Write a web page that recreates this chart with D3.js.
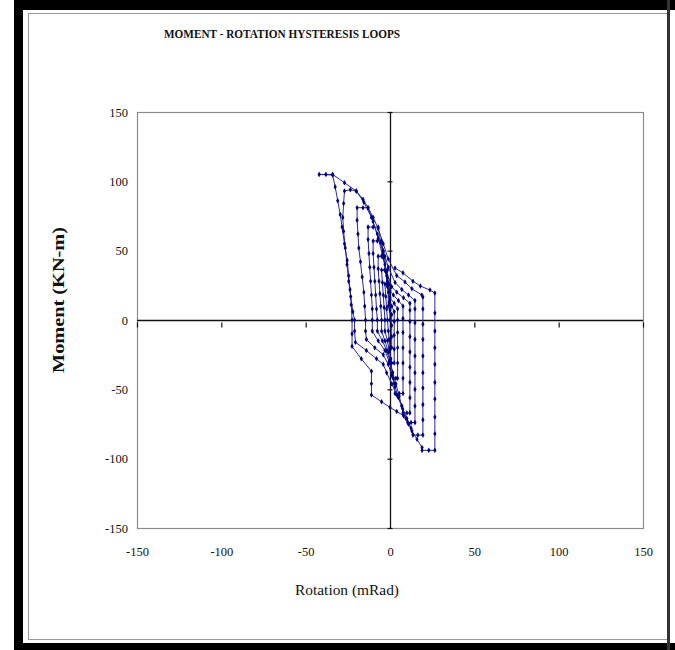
<!DOCTYPE html>
<html>
<head>
<meta charset="utf-8">
<script src="https://cdn.jsdelivr.net/npm/d3@7"></script>
<style>
  html, body { margin: 0; padding: 0; background: #fff; }
  svg { display: block; }
</style>
</head>
<body>
<svg id="chart" width="675" height="650"></svg>
<script>
// Axis ticks (rotation in mRad, moment in kN-m)
const xTicks = [-150, -100, -50, 0, 50, 100, 150];
const yTicks = [-150, -100, -50, 0, 50, 100, 150];

// Recorded hysteresis cycles, [rotation, moment], in test order
const loop1 = [[0,0],[-0.3,12],[-0.5,26],[-1.8,26],[-3,26],[-2.5,17],[-2,8],[-1.5,0],[-1,-8],[-0.5,-14],[0,-20],[1,-20],[1,-12],[1,-4],[1,4],[0,7],[-1,10]];
const loop2 = [[-1,20],[-1.5,30],[-1.5,36],[-3.2,36],[-5,36],[-4.5,27],[-4,18],[-3.5,9],[-3,0],[-3,-8],[-1.5,-15],[-0.5,-22],[0.5,-28],[1,-31],[2.5,-31],[2.5,-21],[2.5,-11],[2.5,-1],[2.5,6],[1,10],[-0.5,13]];
const loop3 = [[-1.5,24],[-2.5,35],[-3,46],[-5,46],[-7,46],[-7,37],[-6.5,28],[-6,19],[-5.5,10],[-5,0],[-5,-8],[-3,-15],[-1,-23],[0.5,-31],[1.5,-38],[2,-42],[3.5,-42],[4.5,-42],[4.5,-31],[4.5,-20],[4.5,-9],[4.5,0],[4.5,8],[2.5,12],[0,16]];
const loop4 = [[-1.5,28],[-3,40],[-4,49],[-5,57],[-7.5,57],[-10,57],[-10,48],[-9.5,38],[-9,28],[-8.5,18],[-8,8],[-7.5,0],[-7.5,-8],[-4.5,-15],[-2,-22],[0,-30],[1.5,-38],[2.5,-46],[3,-53],[5.5,-53],[7.7,-53],[7.7,-42],[7.7,-31],[7.7,-20],[7.7,-9],[7.7,1],[7.7,10],[5,14],[2,18],[0,21]];
const loop5 = [[-2,32],[-4,45],[-5.5,56],[-7,67],[-10,67],[-13,67],[-13,58],[-12.5,48],[-12,38],[-11.5,28],[-11,18],[-10.5,8],[-10.5,0],[-10.5,-8],[-7,-15],[-3,-22],[-0.5,-30],[1.5,-38],[3.5,-46],[5.5,-55],[7,-62],[7.7,-67],[10,-67],[11.8,-67],[11.8,-56],[11.8,-45],[11.8,-34],[11.8,-23],[11.8,-12],[11.8,-1],[11.8,7],[11.8,12],[8,16],[4,20],[1,24]];
const loop6 = [[-2,35],[-4.5,47],[-7,59],[-10,71],[-13,81],[-16,81],[-19.5,81],[-19.5,72],[-19,62],[-18.5,52],[-17.5,42],[-16.5,31],[-15.5,20],[-15,10],[-14.5,0],[-14.5,-8],[-14,-14],[-9,-20],[-4,-25],[-1,-32],[1,-40],[3,-48],[5,-56],[7.5,-64],[9.5,-71],[10.5,-74],[12.5,-74],[14.8,-74],[14.8,-62],[14.8,-50],[14.8,-38],[14.8,-26],[14.8,-14],[14.8,-2],[14.8,8],[14.8,14],[11,18],[7,22],[3,27]];
const loop7 = [[-1,38],[-4,50],[-7.5,62],[-11,74],[-15.5,85],[-20,93],[-23.5,94],[-27,93],[-27.5,84],[-28,74],[-27.5,64],[-26.5,52],[-25.5,40],[-24.5,28],[-23.3,17],[-22,6],[-21,0],[-21,-8],[-20.5,-16],[-14,-22],[-8,-28],[-4,-32],[-2,-38],[1,-46],[4,-54],[7,-62],[10,-71],[12.5,-78],[13.6,-83],[16.5,-83],[19.5,-83],[19.5,-72],[19.5,-61],[19.5,-49],[19.5,-38],[19.5,-26],[19.5,-14],[19.5,-3],[19.5,8],[19.5,16.6],[18.9,18],[13,22.5],[8.9,27.4],[4,32]];
const loop8 = [[-1,44],[-4,55],[-7,66],[-10,74],[-13,81],[-16,87],[-20,93],[-27,99],[-34,105],[-38,105],[-42,105],[-34,104.5],[-32.5,96],[-31,86],[-29.5,76],[-28.4,67],[-27,55],[-25.4,43],[-24.5,32],[-23.7,22],[-23,11],[-22.5,0],[-22.5,-10],[-22.5,-19],[-17,-28],[-11,-37],[-11,-46],[-11,-54],[-5,-59],[0,-63],[4,-66],[8,-69],[11,-75],[13,-80],[16,-86],[19,-92],[19,-94],[23,-94],[26.6,-94],[26.6,-82],[26.6,-70],[26.6,-57],[26.6,-45],[26.6,-32],[26.6,-20],[26.6,-8],[26.6,5],[26.6,19.5],[23.7,21.6],[18,24.5],[13.6,28],[7.7,34],[3,37.5]];

const cycles = [loop1, loop2, loop3, loop4, loop5, loop6, loop7, loop8];
const points = cycles.flat();

const svg = d3.select('#chart');
const W = 675, H = 650;
const plot = { left: 137, right: 643, top: 112, bottom: 528 };

const x = d3.scaleLinear().domain([-150, 150]).range([plot.left, plot.right]);
const y = d3.scaleLinear().domain([-150, 150]).range([plot.bottom, plot.top]);

// Page frame
svg.append('rect').attr('width', W).attr('height', H).attr('fill', '#fff');
const frame = svg.append('g');
frame.append('rect').attr('x', 14).attr('y', 0).attr('width', W - 14).attr('height', 10).attr('fill', '#000');
frame.append('rect').attr('x', 14).attr('y', 0).attr('width', 9).attr('height', H).attr('fill', '#000');
frame.append('rect').attr('x', 14).attr('y', 643).attr('width', W - 14).attr('height', 7).attr('fill', '#000');
frame.append('rect').attr('x', 28.5).attr('y', 13.5).attr('width', 639).attr('height', 626)
  .attr('fill', 'none').attr('stroke', '#9a9a9a').attr('stroke-width', 1);
frame.append('rect').attr('x', 667).attr('y', 0).attr('width', 3).attr('height', H).attr('fill', '#333');

const fontFam = '"Liberation Serif", "Times New Roman", serif';

// Title
svg.append('text')
  .attr('x', 164).attr('y', 38)
  .attr('textLength', 236).attr('lengthAdjust', 'spacingAndGlyphs')
  .style('font-family', fontFam)
  .style('font-size', '13.5px').style('font-weight', 'bold')
  .attr('fill', '#111')
  .text('MOMENT - ROTATION HYSTERESIS LOOPS');

// Plot area border
svg.append('rect')
  .attr('x', plot.left + 0.5).attr('y', plot.top + 0.5)
  .attr('width', plot.right - plot.left).attr('height', plot.bottom - plot.top)
  .attr('fill', 'none').attr('stroke', '#8c8c8c').attr('stroke-width', 1.2);

// Tick labels along the bottom and left of the plot area
const xLabels = svg.append('g')
  .attr('transform', `translate(0,${plot.bottom})`)
  .call(d3.axisBottom(x).tickValues(xTicks).tickSize(0).tickPadding(19).tickFormat(d3.format('d')));
const yLabels = svg.append('g')
  .attr('transform', `translate(${plot.left},0)`)
  .call(d3.axisLeft(y).tickValues(yTicks).tickSize(0).tickPadding(9).tickFormat(d3.format('d')));
[xLabels, yLabels].forEach(g => {
  g.select('.domain').remove();
  g.selectAll('text')
    .style('font-family', fontFam).style('font-size', '12.5px').attr('fill', '#111');
});
// plain hyphen minus, as in the printed labels
svg.selectAll('.tick text').text(d => String(d));

// Axes crossing at the origin, with cross tick marks
const xZero = svg.append('g')
  .attr('transform', `translate(0,${y(0) + 2.5})`)
  .call(d3.axisBottom(x).tickValues(xTicks).tickSize(5).tickFormat(''));
xZero.select('.domain').remove();
const yZero = svg.append('g')
  .attr('transform', `translate(${x(0) + 2.5},0)`)
  .call(d3.axisLeft(y).tickValues(yTicks).tickSize(5).tickFormat(''));
yZero.select('.domain').remove();
svg.selectAll('.tick line').attr('stroke', '#111').attr('stroke-width', 1.2);

svg.append('line')
  .attr('x1', plot.left).attr('x2', plot.right)
  .attr('y1', y(0) + 0.5).attr('y2', y(0) + 0.5)
  .attr('stroke', '#111').attr('stroke-width', 1.3);
svg.append('line')
  .attr('x1', x(0) + 0.5).attr('x2', x(0) + 0.5)
  .attr('y1', plot.top).attr('y2', plot.bottom)
  .attr('stroke', '#111').attr('stroke-width', 1.3);

// Hysteresis curve
const line = d3.line().x(d => x(d[0])).y(d => y(d[1]));
svg.append('path')
  .datum(points)
  .attr('d', line)
  .attr('fill', 'none')
  .attr('stroke', '#2a2a9c')
  .attr('stroke-width', 1)
  .attr('stroke-linejoin', 'round');

svg.append('g').selectAll('path')
  .data(points)
  .join('path')
  .attr('transform', d => `translate(${x(d[0])},${y(d[1])})`)
  .attr('d', d3.symbol().type(d3.symbolDiamond).size(9))
  .attr('fill', '#000080');

// Axis titles
svg.append('text')
  .attr('x', 347).attr('y', 595)
  .attr('text-anchor', 'middle')
  .attr('textLength', 104).attr('lengthAdjust', 'spacingAndGlyphs')
  .style('font-family', fontFam).style('font-size', '15px')
  .attr('fill', '#111')
  .text('Rotation (mRad)');

svg.append('text')
  .attr('transform', 'translate(64,300) rotate(-90)')
  .attr('text-anchor', 'middle')
  .attr('textLength', 146).attr('lengthAdjust', 'spacingAndGlyphs')
  .style('font-family', fontFam).style('font-size', '16px').style('font-weight', 'bold')
  .attr('fill', '#111')
  .text('Moment (KN-m)');
</script>
</body>
</html>
